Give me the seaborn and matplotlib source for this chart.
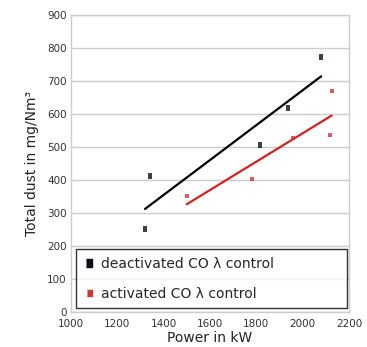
import numpy as np
import pandas as pd
import matplotlib
matplotlib.use("Agg")
import matplotlib.pyplot as plt
import seaborn as sns
from matplotlib.lines import Line2D

deact_power = [1320, 1340, 1815, 1935, 2080]
deact_dust = [252, 413, 505, 617, 773]
act_power = [1500, 1780, 1960, 2125, 2120]
act_dust = [350, 403, 527, 668, 537]
labels = ["deactivated CO \u03bb control", "activated CO \u03bb control"]
xticks = [1000, 1200, 1400, 1600, 1800, 2000, 2200]
yticks = [0, 100, 200, 300, 400, 500, 600, 700, 800, 900]

sns.set_style("white")
plt.rcParams['font.family'] = ['DejaVu Sans']

rect_b = [(-0.65, -1), (0.65, -1), (0.65, 1), (-0.65, 1)]
rect_r = [(-0.8, -1), (0.8, -1), (0.8, 1), (-0.8, 1)]

fig = plt.figure(figsize=(3.67, 3.47), dpi=100)
ax = fig.add_axes([0.193, 0.101, 0.758, 0.856])

df_d = pd.DataFrame({"x": deact_power, "y": deact_dust})
df_a = pd.DataFrame({"x": act_power, "y": act_dust})

sns.regplot(data=df_d, x="x", y="y", ci=None, ax=ax, color="#0d0d1a",
            marker=rect_b, scatter_kws={"s": 16, "linewidths": 0, "zorder": 4},
            line_kws={"lw": 1.6, "zorder": 3, "color": "black"})
sns.regplot(data=df_a, x="x", y="y", ci=None, ax=ax, color="#d42020",
            marker=rect_r, scatter_kws={"s": 10, "linewidths": 0, "zorder": 4,
                                       "color": "#cc3838"},
            line_kws={"lw": 1.6, "zorder": 3})

ax.set_xlim(1000, 2200)
ax.set_ylim(0, 900)
ax.set_xticks(xticks)
ax.set_yticks(yticks)
ax.tick_params(axis='both', labelsize=7.5, colors="#333333", length=0)
ax.tick_params(axis='x', pad=5)
ax.tick_params(axis='y', pad=3)
ax.yaxis.grid(True, color="#cccccc", lw=1.0)
ax.xaxis.grid(False)
ax.set_axisbelow(True)
for s in ax.spines.values():
    s.set_color("#cccccc")
    s.set_linewidth(1.0)

ax.set_xlabel("Power in kW", fontsize=10, labelpad=1.5, color="#222222")
ax.set_ylabel("Total dust in mg/Nm\u00b3", fontsize=10, labelpad=6, color="#222222")

handles = [Line2D([], [], marker=rect_b, color="#0d0d1a", ls="none", markersize=6),
           Line2D([], [], marker=rect_r, color="#cc3838", ls="none", markersize=4.5)]
leg = ax.legend(handles, labels, loc="lower left", bbox_to_anchor=(0.017, 0.012, 0.975, 0.205),
                mode="expand", fontsize=10, frameon=True, fancybox=False,
                handlelength=0.8, handletextpad=0.5, borderpad=0.55, labelspacing=1.15,
                borderaxespad=0)
leg.get_frame().set_edgecolor("black")
leg.get_frame().set_linewidth(1.0)

fig.savefig("out.png", dpi=100)
